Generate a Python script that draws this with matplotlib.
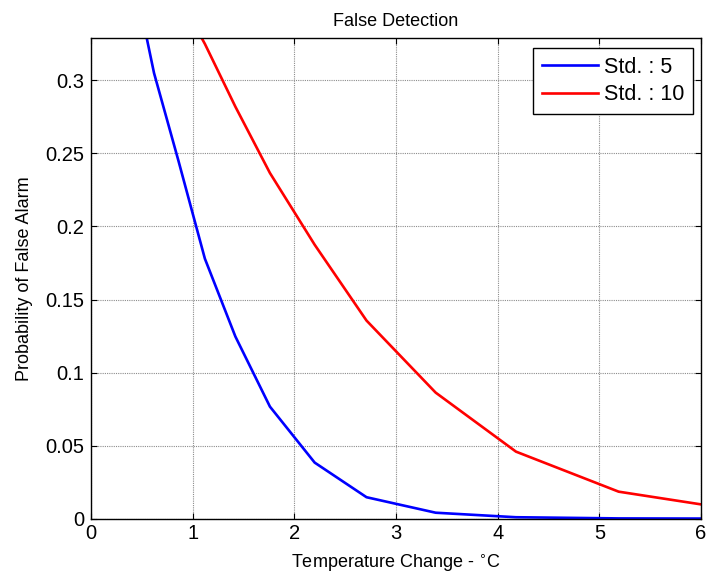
import matplotlib
matplotlib.use("Agg")
import matplotlib.pyplot as plt

# ── data ──────────────────────────────────────────────────────────────────────
temp_change = [0.50, 0.62, 0.86, 1.12, 1.42, 1.76, 2.20, 2.71, 3.39, 4.18, 5.19, 6.00]
pfa_std5    = [0.345, 0.305, 0.245, 0.178, 0.1247, 0.0767, 0.0384, 0.0147, 0.0041, 0.0010, 0.0002, 0.0001]
pfa_std10   = [0.390, 0.374, 0.358, 0.325, 0.282, 0.2366, 0.1875, 0.1356, 0.0863, 0.0459, 0.0185, 0.0098]

series_labels = ["Std. : 5", "Std. : 10"]
x_ticks       = [0, 1, 2, 3, 4, 5, 6]
x_tick_labels = ["0", "1", "2", "3", "4", "5", "6"]
y_ticks       = [0, 0.05, 0.1, 0.15, 0.2, 0.25, 0.3]
y_tick_labels = ["0", "0.05", "0.1", "0.15", "0.2", "0.25", "0.3"]

plt.rcParams["font.family"] = ["Liberation Sans", "DejaVu Sans"]

fig = plt.figure(figsize=(7.07, 5.83), dpi=100)
fig.patch.set_facecolor("white")
ax = fig.add_axes([91 / 707, 1 - 518.7 / 583, 610 / 707, 480.7 / 583])

ax.plot(temp_change, pfa_std5, color="#0000ff", linewidth=1.9, label=series_labels[0])
ax.plot(temp_change, pfa_std10, color="#ff0000", linewidth=1.9, label=series_labels[1])

ax.set_xlim(0, 6)
ax.set_ylim(0, 0.329)
ax.set_xticks(x_ticks)
ax.set_xticklabels(x_tick_labels)
ax.set_yticks(y_ticks)
ax.set_yticklabels(y_tick_labels)

# MATLAB-style dotted grid, inward ticks on all four sides
ax.grid(True, color="#8c8c8c", linestyle=(0, (1, 1)), linewidth=0.8)
ax.tick_params(direction="in", top=True, right=True, length=4, width=0.8,
               labelsize=14.5, colors="black")
ax.tick_params(axis="x", pad=4)
ax.tick_params(axis="y", pad=5)
for sp in ax.spines.values():
    sp.set_linewidth(1.0)
    sp.set_color("black")

ax.set_title("False Detection", fontsize=13, pad=9)
ax.set_xlabel("Temperature Change - $^{\\circ}$C", fontsize=13, labelpad=7)
ax.set_ylabel("Probability of False Alarm", fontsize=13, labelpad=9)

leg = ax.legend(loc="upper right", bbox_to_anchor=(0.9874, 0.9786), borderaxespad=0,
                fontsize=15.5, fancybox=False, framealpha=1, edgecolor="black",
                handlelength=2.6, handletextpad=0.3, borderpad=0.4, labelspacing=0.3)
leg.get_frame().set_linewidth(1.0)

fig.savefig("out.png", dpi=100, facecolor="white")
plt.close(fig)
